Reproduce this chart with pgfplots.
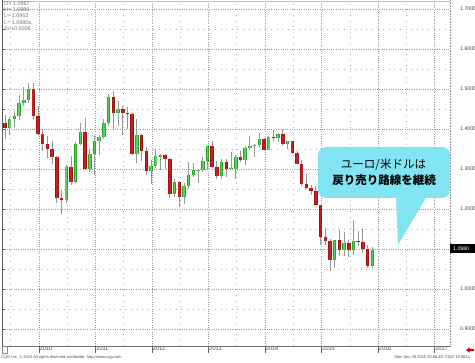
\documentclass[border=0pt]{standalone}
\usepackage{fontspec}
\setmainfont{Liberation Sans}
\newfontfamily\cjk{Noto Sans CJK JP}
\usepackage{pgfplots}
\pgfplotsset{compat=1.18}
\usepackage{pgfplotstable}
\definecolor{gout}{RGB}{40,165,40}
\definecolor{gin}{RGB}{90,210,90}
\definecolor{rout}{RGB}{160,18,18}
\definecolor{rin}{RGB}{200,32,32}
\definecolor{wick}{RGB}{150,150,150}
\definecolor{callout}{RGB}{128,228,242}
% wicks: month index, high, low
\pgfplotstableread{
m h l
-7 1.4340 1.3750
-6 1.4300 1.3850
-5 1.4450 1.4045
-4 1.4845 1.4225
-3 1.5060 1.4580
-2 1.5145 1.4640
-1 1.5140 1.4220
0 1.4580 1.3860
1 1.3990 1.3445
2 1.3820 1.3270
3 1.3690 1.3115
4 1.3330 1.2145
5 1.2475 1.1875
6 1.3100 1.2150
7 1.3335 1.2590
8 1.3665 1.2640
9 1.4160 1.3600
10 1.4280 1.2970
11 1.3500 1.2920
12 1.3860 1.2860
13 1.3860 1.3360
14 1.4250 1.3750
15 1.4880 1.4085
16 1.4940 1.3970
17 1.4700 1.4070
18 1.4580 1.3840
19 1.4550 1.4000
20 1.4400 1.3360
21 1.4245 1.3145
22 1.3870 1.3210
23 1.3550 1.2860
24 1.3235 1.2625
25 1.3490 1.3030
26 1.3385 1.2975
27 1.3385 1.3000
28 1.3285 1.2285
29 1.2745 1.2290
30 1.2690 1.2040
31 1.2640 1.2135
32 1.3170 1.2500
33 1.3140 1.2800
34 1.3010 1.2660
35 1.3310 1.2925
36 1.3585 1.3000
37 1.3710 1.3035
38 1.3200 1.2750
39 1.3245 1.2745
40 1.3240 1.2795
41 1.3415 1.2990
42 1.3345 1.2755
43 1.3450 1.3175
44 1.3570 1.3105
45 1.3830 1.3485
46 1.3620 1.3295
47 1.3895 1.3545
48 1.3775 1.3475
49 1.3825 1.3475
50 1.3965 1.3705
51 1.3905 1.3675
52 1.3995 1.3585
53 1.3700 1.3505
54 1.3700 1.3365
55 1.3445 1.3115
56 1.3220 1.2570
57 1.2885 1.2500
58 1.2600 1.2360
59 1.2570 1.2090
60 1.2105 1.1100
61 1.1535 1.1100
62 1.1245 1.0460
63 1.1225 1.0520
64 1.1465 1.0820
65 1.1435 1.0820
66 1.1215 1.0805
67 1.1715 1.0845
68 1.1460 1.1085
69 1.1495 1.0895
70 1.1095 1.0525
71 1.1060 1.0520
}\wicks
% rising months: month index, open, close
\pgfplotstableread{
m o c
-6 1.4035 1.4255
-5 1.4255 1.4335
-4 1.4335 1.4640
-3 1.4640 1.4720
-2 1.4720 1.4995
6 1.2235 1.3050
8 1.2680 1.3630
9 1.3630 1.3935
11 1.3000 1.3380
12 1.3380 1.3690
13 1.3690 1.3805
14 1.3805 1.4160
15 1.4160 1.4805
17 1.4395 1.4500
21 1.3385 1.3855
24 1.2960 1.3080
25 1.3080 1.3325
26 1.3310 1.3345
29 1.2370 1.2665
31 1.2300 1.2575
32 1.2575 1.2855
33 1.2855 1.2965
34 1.2955 1.2985
35 1.2985 1.3190
36 1.3190 1.3580
39 1.2820 1.3165
41 1.2995 1.3030
42 1.3010 1.3300
44 1.3225 1.3525
45 1.3525 1.3585
46 1.3575 1.3605
47 1.3590 1.3745
49 1.3485 1.3805
51 1.3770 1.3870
53 1.3635 1.3690
63 1.0730 1.1220
65 1.0985 1.1150
67 1.0985 1.1210
71 1.0565 1.0980
}\up
% falling months: month index, open, close
\pgfplotstableread{
m o c
-7 1.4150 1.4035
-1 1.4995 1.4325
0 1.4325 1.3865
1 1.3865 1.3625
2 1.3625 1.3510
3 1.3510 1.3290
4 1.3290 1.2270
5 1.2270 1.2235
7 1.3050 1.2680
10 1.3935 1.3000
16 1.4805 1.4395
18 1.4500 1.4395
19 1.4395 1.4365
20 1.4380 1.3385
22 1.3855 1.3445
23 1.3445 1.2960
27 1.3345 1.3240
28 1.3240 1.2370
30 1.2665 1.2300
37 1.3580 1.3060
38 1.3060 1.2820
40 1.3165 1.3000
43 1.3300 1.3225
48 1.3745 1.3485
50 1.3805 1.3770
52 1.3870 1.3635
54 1.3690 1.3390
55 1.3390 1.3130
56 1.3130 1.2630
57 1.2630 1.2525
58 1.2525 1.2450
59 1.2450 1.2100
60 1.2100 1.1290
61 1.1290 1.1195
62 1.1195 1.0730
64 1.1220 1.0985
66 1.1150 1.0985
68 1.1210 1.1175
69 1.1175 1.1005
70 1.1005 1.0565
}\down
\begin{document}
\begin{tikzpicture}
\path[use as bounding box] (0pt,0pt) rectangle (475pt,-363pt);
\begin{axis}[
  at={(2.3pt,-346pt)}, anchor=south west,
  scale only axis, width=447.7pt, height=343pt,
  xmin=-7.58, xmax=87.49, ymin=0.8575, ymax=1.715,
  axis line style={draw=none},
  xtick={0.2,12.2,24.2,36.2,48.2,60.2,72.2,84.2},
  xticklabels={2010,2011,2012,2013,2014,2015,2016,2017},
  minor xtick={-5.8,6.2,18.2,30.2,42.2,54.2,66.2,78.2},
  ytick={0.9,1.0,1.1,1.2,1.3,1.4,1.5,1.6,1.7},
  yticklabels={0.9000,1.0000,,1.2000,1.3000,1.4000,1.5000,1.6000,1.7000},
  minor ytick={0.95,1.05,1.15,1.25,1.35,1.45,1.55,1.65},
  grid=both,
  major grid style={draw=black!40, dash pattern=on 0.6pt off 1.7pt, line width=0.45pt},
  minor grid style={draw=black!30, dash pattern=on 0.6pt off 5pt, line width=0.45pt},
  xtick pos=left, ytick pos=left, yticklabel pos=right,
  tick align=outside, major tick length=7pt, minor tick length=0pt,
  xtick style={draw=black!60, line width=0.5pt},
  ytick style={draw=none},
  xticklabel style={anchor=north west, inner sep=0.8pt, font=\fontsize{5.5}{6}\selectfont, text=black!75, yshift=7pt},
  yticklabel style={anchor=west, inner sep=0pt, xshift=3pt, font=\fontsize{5.2}{6}\selectfont, text=black!75},
  clip=true,
]
\addplot[draw=wick, line width=0.9pt, quiver={u=0,v=\thisrow{h}-\thisrow{l}}] table[x=m,y=l]{\wicks};
\addplot[draw=gout, line width=3.5pt, quiver={u=0,v=\thisrow{c}-\thisrow{o}}] table[x=m,y=o]{\up};
\addplot[draw=gin, line width=1.6pt, quiver={u=0,v=\thisrow{c}-\thisrow{o}}] table[x=m,y=o]{\up};
\addplot[draw=rout, line width=3.5pt, quiver={u=0,v=\thisrow{c}-\thisrow{o}}] table[x=m,y=o]{\down};
\addplot[draw=rin, line width=1.6pt, quiver={u=0,v=\thisrow{c}-\thisrow{o}}] table[x=m,y=o]{\down};
\end{axis}
\begin{scope}[x=1pt,y=-1pt]
  % frame
  \draw[black!25, line width=0.5pt] (2.3,1) -- (450,1);
  \draw[black!45, dash pattern=on 0.6pt off 1pt, line width=0.5pt] (450,0) -- (450,346);
  \draw[black!55, line width=0.6pt] (2.3,346) -- (450,346);
  \draw[black!65, line width=1.3pt] (2.3,0) -- (2.3,346);
  \foreach \yy in {9,29,...,329} \draw[black!65, line width=0.5pt] (2.3,\yy) -- (5,\yy);
  \draw[black!45, line width=0.5pt] (2.3,346) rectangle (7,353);
  % header
  \begin{scope}[every node/.style={anchor=west, inner sep=0pt, font=\fontsize{5.4}{5.5}\selectfont, text=black!55}]
    \node at (4,3.6) {O= 1.0967};
    \node at (4,9.9) {H= 1.0986};
    \node at (4,16.1) {L= 1.0963};
    \node at (4,22.3) {L= 1.0980a};
    \node at (4,28.5) {Δ=+0.0009};
  \end{scope}
  % last price marker
  \fill[black] (449.5,244.5) rectangle (475,253);
  \node[anchor=west, inner sep=0pt, font=\fontsize{5.2}{6}\selectfont, text=white] at (453,248.8) {1.0980};
  % footer
  \node[anchor=west, inner sep=0pt, font=\fontsize{4}{4}\selectfont, text=black!70] at (1,357.8) {CQG Inc. © 2015 All rights reserved worldwide. http://www.cqg.com};
  \node[anchor=east, inner sep=0pt, font=\fontsize{4}{4}\selectfont, text=black!70] at (470,357.8) {Mon Dec 28 2015 20:08:48, CQG 15.9824};
  \fill[red!85!black] (466,350) -- (469.5,347.3) -- (469.5,349) -- (474,349) -- (474,351) -- (469.5,351) -- (469.5,352.7) -- cycle;
  % callout
  \fill[callout, rounded corners=8pt] (318,147) rectangle (450,198);
  \fill[callout] (396,196) -- (427,196) -- (398,245) -- cycle;
  \node[font=\cjk\fontsize{11.5}{12}\selectfont, inner sep=0pt] at (383.5,165) {ユーロ/米ドルは};
  \node[font=\cjk\bfseries\fontsize{11.5}{12}\selectfont, inner sep=0pt] at (384.2,180.5) {戻り売り路線を継続};
\end{scope}
\end{tikzpicture}
\end{document}
